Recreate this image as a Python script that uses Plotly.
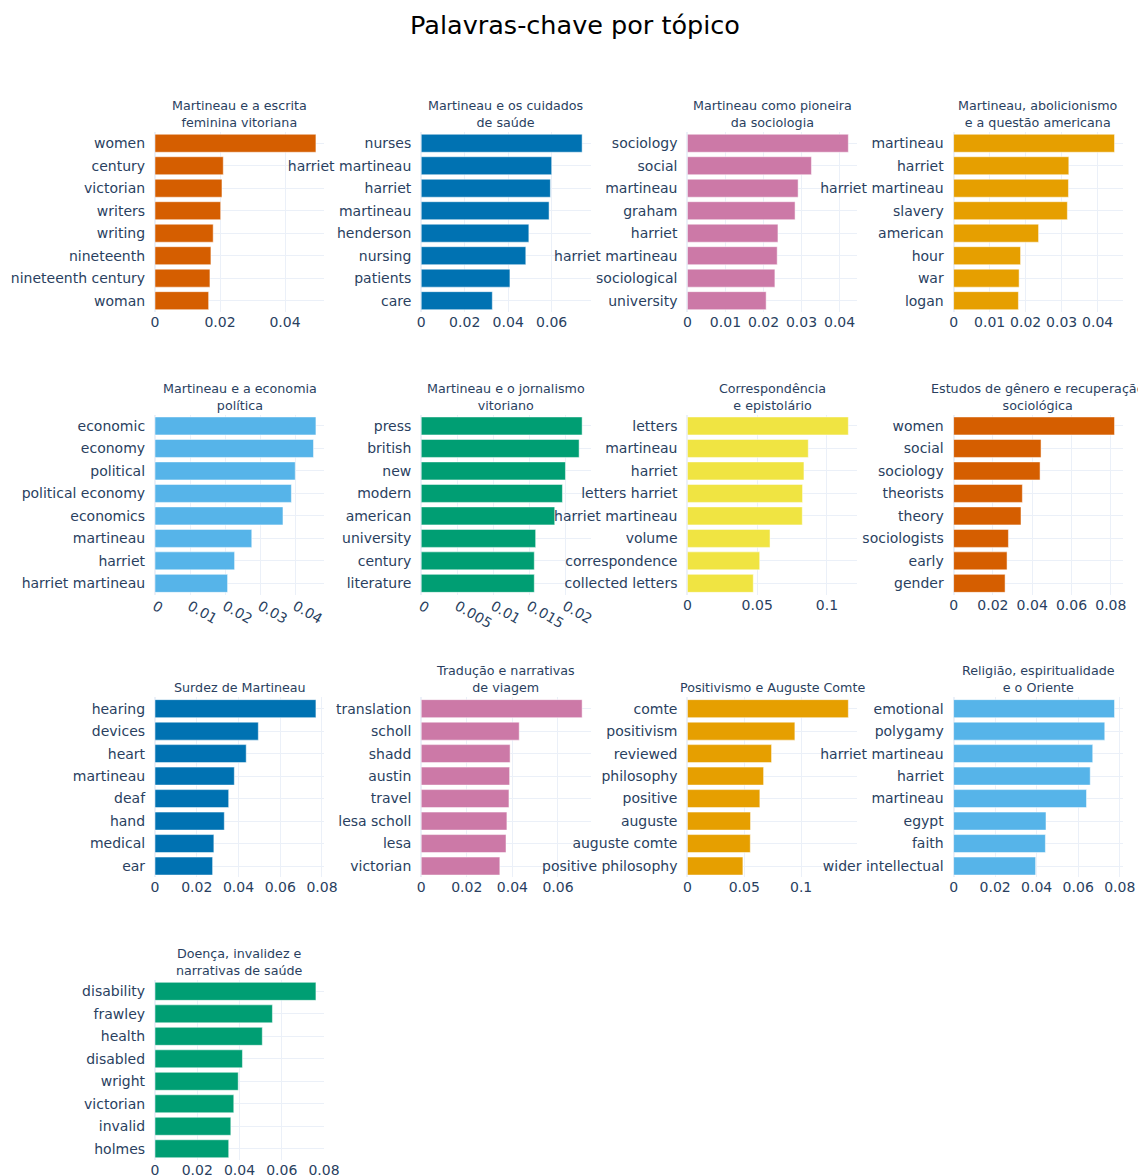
import plotly.graph_objects as go
from plotly.subplots import make_subplots

topic_titles = [
    "Martineau e a escrita<br>feminina vitoriana",
    "Martineau e os cuidados<br>de saúde",
    "Martineau como pioneira<br>da sociologia",
    "Martineau, abolicionismo<br>e a questão americana",
    "Martineau e a economia<br>política",
    "Martineau e o jornalismo<br>vitoriano",
    "Correspondência<br>e epistolário",
    "Estudos de gênero e recuperação<br>sociológica",
    "Surdez de Martineau",
    "Tradução e narrativas<br>de viagem",
    "Positivismo e Auguste Comte",
    "Religião, espiritualidade<br>e o Oriente",
    "Doença, invalidez e<br>narrativas de saúde",
]

topic_words = [
    ["women", "century", "victorian", "writers", "writing", "nineteenth", "nineteenth century", "woman"],
    ["nurses", "harriet martineau", "harriet", "martineau", "henderson", "nursing", "patients", "care"],
    ["sociology", "social", "martineau", "graham", "harriet", "harriet martineau", "sociological", "university"],
    ["martineau", "harriet", "harriet martineau", "slavery", "american", "hour", "war", "logan"],
    ["economic", "economy", "political", "political economy", "economics", "martineau", "harriet", "harriet martineau"],
    ["press", "british", "new", "modern", "american", "university", "century", "literature"],
    ["letters", "martineau", "harriet", "letters harriet", "harriet martineau", "volume", "correspondence", "collected letters"],
    ["women", "social", "sociology", "theorists", "theory", "sociologists", "early", "gender"],
    ["hearing", "devices", "heart", "martineau", "deaf", "hand", "medical", "ear"],
    ["translation", "scholl", "shadd", "austin", "travel", "lesa scholl", "lesa", "victorian"],
    ["comte", "positivism", "reviewed", "philosophy", "positive", "auguste", "auguste comte", "positive philosophy"],
    ["emotional", "polygamy", "harriet martineau", "harriet", "martineau", "egypt", "faith", "wider intellectual"],
    ["disability", "frawley", "health", "disabled", "wright", "victorian", "invalid", "holmes"],
]

topic_scores = [
    [0.0495, 0.0210, 0.0206, 0.0202, 0.0179, 0.0172, 0.0169, 0.0165],
    [0.0740, 0.0600, 0.0594, 0.0588, 0.0495, 0.0481, 0.0408, 0.0327],
    [0.0423, 0.0326, 0.0291, 0.0283, 0.0238, 0.0236, 0.0230, 0.0207],
    [0.0447, 0.0320, 0.0319, 0.0316, 0.0236, 0.0186, 0.0182, 0.0180],
    [0.0459, 0.0452, 0.0400, 0.0389, 0.0365, 0.0276, 0.0227, 0.0207],
    [0.02237, 0.02195, 0.02005, 0.01963, 0.01856, 0.01591, 0.01572, 0.01572],
    [0.1153, 0.0866, 0.0835, 0.0825, 0.0823, 0.0592, 0.0518, 0.0472],
    [0.0819, 0.0445, 0.0440, 0.0350, 0.0343, 0.0279, 0.0272, 0.0262],
    [0.0771, 0.0495, 0.0437, 0.0380, 0.0353, 0.0332, 0.0282, 0.0276],
    [0.0706, 0.0430, 0.0390, 0.0388, 0.0385, 0.0376, 0.0372, 0.0345],
    [0.1415, 0.0945, 0.0740, 0.0670, 0.0637, 0.0555, 0.0553, 0.0488],
    [0.0775, 0.0728, 0.0670, 0.0658, 0.0640, 0.0445, 0.0442, 0.0395],
    [0.0762, 0.0556, 0.0508, 0.0414, 0.0394, 0.0373, 0.0359, 0.0349],
]

palette = ["#D55E00", "#0072B2", "#CC79A7", "#E69F00", "#56B4E9", "#009E73", "#F0E442"]

n_cols = 4
n_rows = 4
FONT = "DejaVu Sans, Verdana, sans-serif"
W, H = 1134, 1175

fig = make_subplots(
    rows=n_rows, cols=n_cols,
    shared_xaxes=False,
    horizontal_spacing=0.1,
    vertical_spacing=0.1,
    subplot_titles=topic_titles,
)

for i, (words, scores) in enumerate(zip(topic_words, topic_scores)):
    r = i // n_cols + 1
    c = i % n_cols + 1
    fig.add_trace(
        go.Bar(
            x=scores[::-1],
            y=words[::-1],
            orientation="h",
            marker_color=palette[i % len(palette)],
        ),
        row=r, col=c,
    )

fig.update_layout(
    template="plotly_white",
    showlegend=False,
    width=W,
    height=H,
    margin=dict(l=147, r=19, t=124, b=23),
    font=dict(family=FONT, size=14, color="#2a3f5f"),
    title=dict(
        text="Palavras-chave por tópico",
        x=0.5, xanchor="center",
        y=1 - 17 / H, yanchor="middle",
        font=dict(family=FONT, size=25.5, color="black"),
    ),
)
fig.update_xaxes(showgrid=True, automargin=False, tickangle=0, tickfont=dict(family=FONT, size=14))
fig.update_yaxes(showgrid=True, automargin=False, ticksuffix="  ", tickfont=dict(family=FONT, size=14))
fig.update_annotations(font=dict(family=FONT, size=12.7, color="#2a3f5f"))
fig.update_xaxes(tickangle=30, row=2, col=1)
fig.update_xaxes(tickangle=30, row=2, col=2)

fig.write_html("out.html")
